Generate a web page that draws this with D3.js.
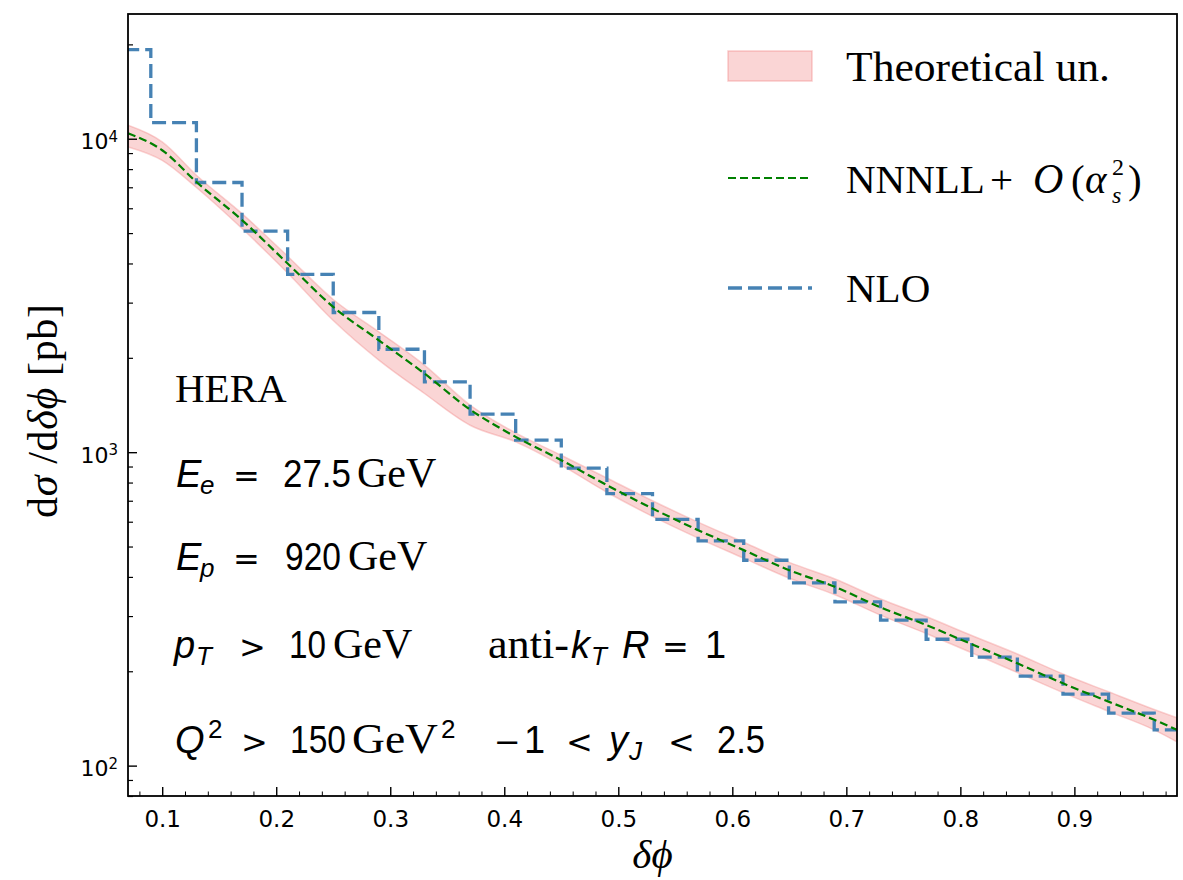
<!DOCTYPE html>
<html>
<head>
<meta charset="utf-8">
<script src="https://cdn.jsdelivr.net/npm/d3@7.9.0/dist/d3.min.js"></script>
<style>
  body { margin: 0; background: #fff; }
  svg { display: block; }
</style>
</head>
<body>
<div id="chart"></div>
<script>
// NLO histogram: bin edges and bin values
const nloEdges = [0.05, 0.09, 0.13, 0.17, 0.21, 0.25, 0.29, 0.33, 0.37, 0.41, 0.45, 0.49, 0.53,
                  0.57, 0.61, 0.65, 0.69, 0.73, 0.77, 0.81, 0.85, 0.89, 0.93, 0.97, 1.01];
const nloValues = [19250, 11250, 7250, 5070, 3690, 2790, 2130, 1676, 1322, 1092, 890, 737,
                   610, 521, 452, 383, 333, 291, 253, 222, 193, 169, 147, 130];

// NNNLL + O(as^2) central curve and theory band
const resX = [0.07, 0.10, 0.13, 0.17, 0.21, 0.25, 0.29, 0.33, 0.37, 0.41, 0.45, 0.49, 0.53,
              0.57, 0.61, 0.65, 0.69, 0.73, 0.77, 0.81, 0.85, 0.89, 0.93, 0.97, 0.99];
const resCentral = [10400, 9190, 7280, 5500, 4000, 2907, 2275, 1782, 1368, 1119, 943, 785, 661,
                    564, 487, 420, 372, 320, 281, 244, 212, 183, 160, 140, 130];
const resUpper = [11040, 9770, 7650, 5770, 4220, 3070, 2420, 1895, 1413, 1152, 978, 827, 700,
                  598, 516, 445, 394, 340, 299, 260, 227, 196, 172, 151, 142];
const resLower = [9416, 8530, 6990, 5170, 3730, 2630, 1966, 1539, 1219, 1079, 909, 745, 624,
                  532, 459, 396, 351, 302, 264, 229, 198, 171, 149, 130, 119];

const xMajorTicks = [0.1, 0.2, 0.3, 0.4, 0.5, 0.6, 0.7, 0.8, 0.9];
const yMajorTicks = [100, 1000, 10000];
const yTickExp = ["2", "3", "4"];

const SERIF = "'Liberation Serif', 'DejaVu Serif', serif";
const SANS = "'Liberation Sans', Arial, sans-serif";
const DJ = "'DejaVu Sans', sans-serif";

const W = 1183, H = 880;
const margin = {top: 14, right: 6, bottom: 84, left: 128};
const width = W - margin.left - margin.right;
const height = H - margin.top - margin.bottom;

const svg = d3.select("#chart").append("svg")
    .attr("width", W)
    .attr("height", H);

const g = svg.append("g")
    .attr("transform", `translate(${margin.left},${margin.top})`);

// scales
const x = d3.scaleLinear().domain([0.07, 0.99]).range([0, width]);
const y = d3.scaleLog().domain([80, 25000]).range([height, 0]);

svg.append("defs").append("clipPath").attr("id", "plotclip")
    .append("rect").attr("width", width).attr("height", height);

const plot = g.append("g").attr("clip-path", "url(#plotclip)");

// theory band
const bandData = resX.map((d, i) => ({x: d, lo: resLower[i], hi: resUpper[i], c: resCentral[i]}));
plot.append("path")
    .datum(bandData)
    .attr("fill", "#f08080")
    .attr("fill-opacity", 0.33)
    .attr("stroke", "#f08080")
    .attr("stroke-opacity", 0.35)
    .attr("stroke-width", 1.5)
    .attr("d", d3.area()
        .curve(d3.curveMonotoneX)
        .x(d => x(d.x))
        .y0(d => y(d.lo))
        .y1(d => y(d.hi)));

// NLO histogram as step line
const stepData = nloValues.map((v, i) => ({x: nloEdges[i], v: v}));
stepData.push({x: nloEdges[nloEdges.length - 1], v: nloValues[nloValues.length - 1]});
plot.append("path")
    .datum(stepData)
    .attr("fill", "none")
    .attr("stroke", "#4682b4")
    .attr("stroke-width", 3.3)
    .attr("stroke-dasharray", "14,6")
    .attr("d", d3.line()
        .curve(d3.curveStepAfter)
        .x(d => x(d.x))
        .y(d => y(d.v)));

// central resummed curve
plot.append("path")
    .datum(bandData)
    .attr("fill", "none")
    .attr("stroke", "#008000")
    .attr("stroke-width", 2.2)
    .attr("stroke-dasharray", "8,4")
    .attr("d", d3.line()
        .curve(d3.curveMonotoneX)
        .x(d => x(d.x))
        .y(d => y(d.c)));

// axes (ticks pointing inward)
const xMinor = d3.range(4, 50).map(k => k * 0.02)
    .filter(v => v >= 0.07 && v <= 0.99 && Math.round(v * 100) % 10 !== 0);

g.append("g")
    .attr("transform", `translate(0,${height})`)
    .call(d3.axisBottom(x).tickValues(xMinor).tickSize(-4.5).tickFormat(""))
    .call(a => a.select(".domain").remove());

const xAxis = g.append("g")
    .attr("transform", `translate(0,${height})`)
    .call(d3.axisBottom(x).tickValues(xMajorTicks).tickSize(-9).tickPadding(14.5)
        .tickFormat(d3.format(".1f")));
xAxis.select(".domain").remove();
xAxis.selectAll("text").attr("font-family", DJ).attr("font-size", 23).attr("fill", "#000");
xAxis.selectAll("line").attr("stroke-width", 1.4);

const yMinor = y.ticks(40).filter(v => !yMajorTicks.includes(v));
g.append("g")
    .call(d3.axisLeft(y).tickValues(yMinor).tickSize(-5).tickFormat(""))
    .call(a => a.select(".domain").remove())
    .selectAll("line").attr("stroke-width", 1.2);

const yAxis = g.append("g")
    .call(d3.axisLeft(y).tickValues(yMajorTicks).tickSize(-9).tickFormat(""));
yAxis.select(".domain").remove();
yAxis.selectAll("line").attr("stroke-width", 1.4);

yMajorTicks.forEach((v, i) => {
    const t = g.append("text")
        .attr("x", -10)
        .attr("y", y(v) + 10.5)
        .attr("text-anchor", "end")
        .attr("font-family", DJ)
        .attr("fill", "#000");
    t.append("tspan").attr("font-size", 22).text("10");
    t.append("tspan").attr("font-size", 15).attr("dy", -7.5).text(yTickExp[i]);
});

// frame
g.append("rect")
    .attr("width", width)
    .attr("height", height)
    .attr("fill", "none")
    .attr("stroke", "#000")
    .attr("stroke-width", 1.8);

// axis labels
svg.append("text")
    .attr("x", margin.left + width / 2)
    .attr("y", 868)
    .attr("text-anchor", "middle")
    .attr("font-family", SERIF)
    .attr("font-style", "italic")
    .attr("font-size", 41)
    .text("δϕ");

const ylab = svg.append("text")
    .attr("transform", `translate(57,${margin.top + height / 2 + 6}) rotate(-90)`)
    .attr("text-anchor", "middle")
    .attr("font-family", SERIF)
    .attr("font-size", 42)
    .attr("textLength", 214)
    .attr("lengthAdjust", "spacing");
ylab.append("tspan").text("d");
ylab.append("tspan").attr("font-style", "italic").text("σ");
ylab.append("tspan").text(" /d");
ylab.append("tspan").attr("font-style", "italic").text("δϕ");
ylab.append("tspan").text(" [pb]");

// annotation text: pieces placed along a baseline
function mathRow(baseY, parts) {
    parts.forEach(p => {
        const t = svg.append("text")
            .attr("x", p.x)
            .attr("y", baseY + (p.dy || 0))
            .attr("font-family", p.f)
            .attr("font-style", p.it ? "italic" : "normal")
            .attr("font-size", p.s)
            .attr("fill", "#000")
            .text(p.t);
        if (p.w) t.attr("textLength", p.w).attr("lengthAdjust", "spacingAndGlyphs");
    });
}

mathRow(402, [{x: 175, t: "HERA", f: SERIF, s: 41}]);
mathRow(487, [
    {x: 176, t: "E", f: SANS, s: 38, it: true},
    {x: 200, t: "e", f: SANS, s: 26, it: true, dy: 7},
    {x: 233, t: "=", f: DJ, s: 32},
    {x: 283, t: "27.5", f: SANS, s: 38, w: 68},
    {x: 357, t: "GeV", f: SERIF, s: 42}
]);
mathRow(570, [
    {x: 176, t: "E", f: SANS, s: 38, it: true},
    {x: 200, t: "p", f: SANS, s: 26, it: true, dy: 7},
    {x: 233, t: "=", f: DJ, s: 32},
    {x: 285, t: "920", f: SANS, s: 38, w: 56},
    {x: 348, t: "GeV", f: SERIF, s: 42}
]);
mathRow(658, [
    {x: 174, t: "p", f: SANS, s: 38, it: true},
    {x: 196, t: "T", f: SANS, s: 26, it: true, dy: 7},
    {x: 239, t: ">", f: DJ, s: 32},
    {x: 289, t: "10", f: SANS, s: 38, w: 37},
    {x: 333, t: "GeV", f: SERIF, s: 42},
    {x: 488, t: "anti-", f: SERIF, s: 42, w: 81},
    {x: 571, t: "k", f: SANS, s: 38, it: true},
    {x: 591, t: "T", f: SANS, s: 26, it: true, dy: 7},
    {x: 622, t: "R", f: SANS, s: 38, it: true},
    {x: 662, t: "=", f: DJ, s: 32},
    {x: 705, t: "1", f: SANS, s: 38}
]);
mathRow(753, [
    {x: 175, t: "Q", f: SANS, s: 38, it: true},
    {x: 208, t: "2", f: SANS, s: 26, dy: -15},
    {x: 241, t: ">", f: DJ, s: 32},
    {x: 290, t: "150", f: SANS, s: 38, w: 56},
    {x: 352, t: "GeV", f: SERIF, s: 42, w: 86},
    {x: 441, t: "2", f: SANS, s: 26, dy: -15},
    {x: 494, t: "−", f: DJ, s: 32},
    {x: 524, t: "1", f: SANS, s: 38},
    {x: 566, t: "<", f: DJ, s: 32},
    {x: 609, t: "y", f: SANS, s: 38, it: true},
    {x: 629, t: "J", f: SANS, s: 26, it: true, dy: 7},
    {x: 668, t: "<", f: DJ, s: 32},
    {x: 717, t: "2.5", f: SANS, s: 38, w: 48}
]);

// legend
const leg = svg.append("g");
leg.append("rect")
    .attr("x", 728).attr("y", 51)
    .attr("width", 84).attr("height", 30)
    .attr("fill", "#f08080").attr("fill-opacity", 0.33)
    .attr("stroke", "#f08080").attr("stroke-opacity", 0.4).attr("stroke-width", 1.5);
leg.append("line")
    .attr("x1", 728).attr("x2", 812).attr("y1", 178).attr("y2", 178)
    .attr("stroke", "#008000").attr("stroke-width", 2.2).attr("stroke-dasharray", "8,4");
leg.append("line")
    .attr("x1", 728).attr("x2", 812).attr("y1", 288).attr("y2", 288)
    .attr("stroke", "#4682b4").attr("stroke-width", 3.3).attr("stroke-dasharray", "14,6");

mathRow(81, [{x: 846, t: "Theoretical un.", f: SERIF, s: 42, w: 264}]);
mathRow(193, [
    {x: 846, t: "NNNLL", f: SERIF, s: 41},
    {x: 990, t: "+", f: SERIF, s: 41},
    {x: 1033, t: "O", f: SERIF, s: 42, it: true},
    {x: 1071, t: "(", f: SERIF, s: 41},
    {x: 1085, t: "α", f: SERIF, s: 41, it: true},
    {x: 1112, t: "2", f: SERIF, s: 24, dy: -18},
    {x: 1112, t: "s", f: SERIF, s: 24, it: true, dy: 10},
    {x: 1128, t: ")", f: SERIF, s: 41}
]);
mathRow(302, [{x: 846, t: "NLO", f: SERIF, s: 41}]);
</script>
</body>
</html>
